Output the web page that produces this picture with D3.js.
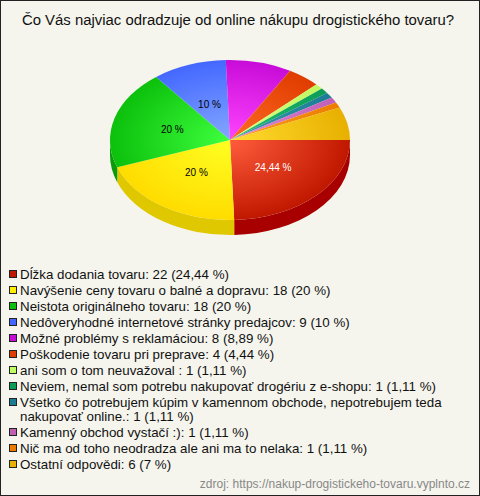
<!DOCTYPE html>
<html><head><meta charset="utf-8">
<script src="https://cdnjs.cloudflare.com/ajax/libs/d3/7.8.5/d3.min.js"></script>
<style>html,body{margin:0;padding:0;background:#fff}svg{display:block}text{font-family:"Liberation Sans",Arial,sans-serif}</style>
</head><body><svg id="c" width="480" height="496"></svg>
<script>
const titleText = "Čo Vás najviac odradzuje od online nákupu drogistického tovaru?";
const categories = ["Dĺžka dodania tovaru","Navýšenie ceny tovaru o balné a dopravu","Neistota originálneho tovaru","Nedôveryhodné internetové stránky predajcov","Možné problémy s reklamáciou","Poškodenie tovaru pri preprave","ani som o tom neuvažoval ","Neviem, nemal som potrebu nakupovať drogériu z e-shopu","Všetko čo potrebujem kúpim v kamennom obchode, nepotrebujem teda nakupovať online.","Kamenný obchod vystačí :)","Nič ma od toho neodradza ale ani ma to nelaka","Ostatní odpovědi"];
const values = [22,18,18,9,8,4,1,1,1,1,1,6];
const percents = ["24,44","20","20","10","8,89","4,44","1,11","1,11","1,11","1,11","1,11","7"];
const inner = ["#ff5c3c","#ffff22","#3eff3e","#84a8ff","#ff44ff","#ff6a24","#d8ff88","#20c070","#3a9ab0","#e088d8","#ffa020","#ffdc30"];
const outer = ["#c01800","#ffdc00","#0cc00c","#4468ff","#c80cd8","#e03c00","#c0f860","#0c9c58","#1c7c94","#c060b8","#ec7c00","#e8b000"];
const sides = ["#a80000","#e0c800","#0a9a0a","#3050c0","#a008a8","#b03000","#98c048","#087c44","#146074","#984c90","#bc6000","#b88c00"];
const swatch = ["#c01800","#ffee00","#0cc00c","#4468ff","#c80cd8","#e03c00","#c0ff60","#0c9c58","#1c7c94","#c060b0","#ec7c00","#e8b000"];
const labelled = [0,1,2,3];
const labelColor = ["#fff","#000","#000","#000"];
const legendLines = [["0"],["0"],["0"],["0"],["0"],["0"],["0"],["0"],["Všetko čo potrebujem kúpim v kamennom obchode, nepotrebujem teda","nakupovať online.: 1 (1,11 %)"],["0"],["0"],["0"]];

const W=480,H=496,cx=230,cy=140,rx=120,ry=80,depth=15;
const svg=d3.select("#c");
svg.append("rect").attr("x",.5).attr("y",.5).attr("width",W-1).attr("height",H-1).attr("fill","#f5f5ed").attr("stroke","#222");
svg.append("text").attr("x",238).attr("y",25).attr("text-anchor","middle").attr("font-size",14.9).attr("fill","#111").text(titleText);

const pie=d3.pie().sort(null).startAngle(Math.PI/2).endAngle(Math.PI*2.5)(values);
const arc=d3.arc().innerRadius(0).outerRadius(rx);
const defs=svg.append("defs");
pie.forEach((d,i)=>{
  const g=defs.append("radialGradient").attr("id","g"+i).attr("gradientUnits","userSpaceOnUse").attr("cx",0).attr("cy",0).attr("r",rx);
  g.append("stop").attr("offset",0).attr("stop-color",inner[i]);
  g.append("stop").attr("offset",1).attr("stop-color",outer[i]);
});
const px=t=>cx+rx*Math.sin(t), py=t=>cy-ry*Math.cos(t);
const side=svg.append("g");
pie.forEach((d,i)=>{
  const a=Math.max(d.startAngle,Math.PI/2), b=Math.min(d.endAngle,Math.PI*1.5);
  if(b<=a) return;
  side.append("path").attr("fill",sides[i])
   .attr("d",`M${px(a)},${py(a)}A${rx},${ry} 0 0 1 ${px(b)},${py(b)}L${px(b)},${py(b)+depth}A${rx},${ry} 0 0 0 ${px(a)},${py(a)+depth}Z`);
});
const top_=svg.append("g").attr("transform",`translate(${cx},${cy}) scale(1,${ry/rx})`);
top_.selectAll("path").data(pie).join("path").attr("d",arc).attr("fill",(d,i)=>`url(#g${i})`);
const lab=svg.append("g");
labelled.forEach((i,k)=>{
  const d=pie[i],m=(d.startAngle+d.endAngle)/2;
  lab.append("text").attr("x",cx+rx*.5*Math.sin(m)).attr("y",cy-ry*.48*Math.cos(m)+4)
    .attr("text-anchor","middle").attr("font-size",10).attr("fill",labelColor[k]).text(percents[i]+" %");
});
const leg=svg.append("g");
let y=274;
categories.forEach((c,i)=>{
  leg.append("rect").attr("x",9.5).attr("y",y-3.5).attr("width",7).attr("height",7).attr("fill",swatch[i]).attr("stroke","#222");
  const lines=legendLines[i].length>1?legendLines[i]:[`${c}: ${values[i]} (${percents[i]} %)`];
  lines.forEach((t,k)=>{
    leg.append("text").attr("x",20).attr("y",y+5+k*14).attr("font-size",13.33).attr("fill","#111").attr("xml:space","preserve").text(t);
  });
  y+=16+(lines.length-1)*14;
});
svg.append("text").attr("x",470).attr("y",488).attr("text-anchor","end").attr("font-size",12).attr("fill","#888").text("zdroj: https://nakup-drogistickeho-tovaru.vyplnto.cz");
</script></body></html>
